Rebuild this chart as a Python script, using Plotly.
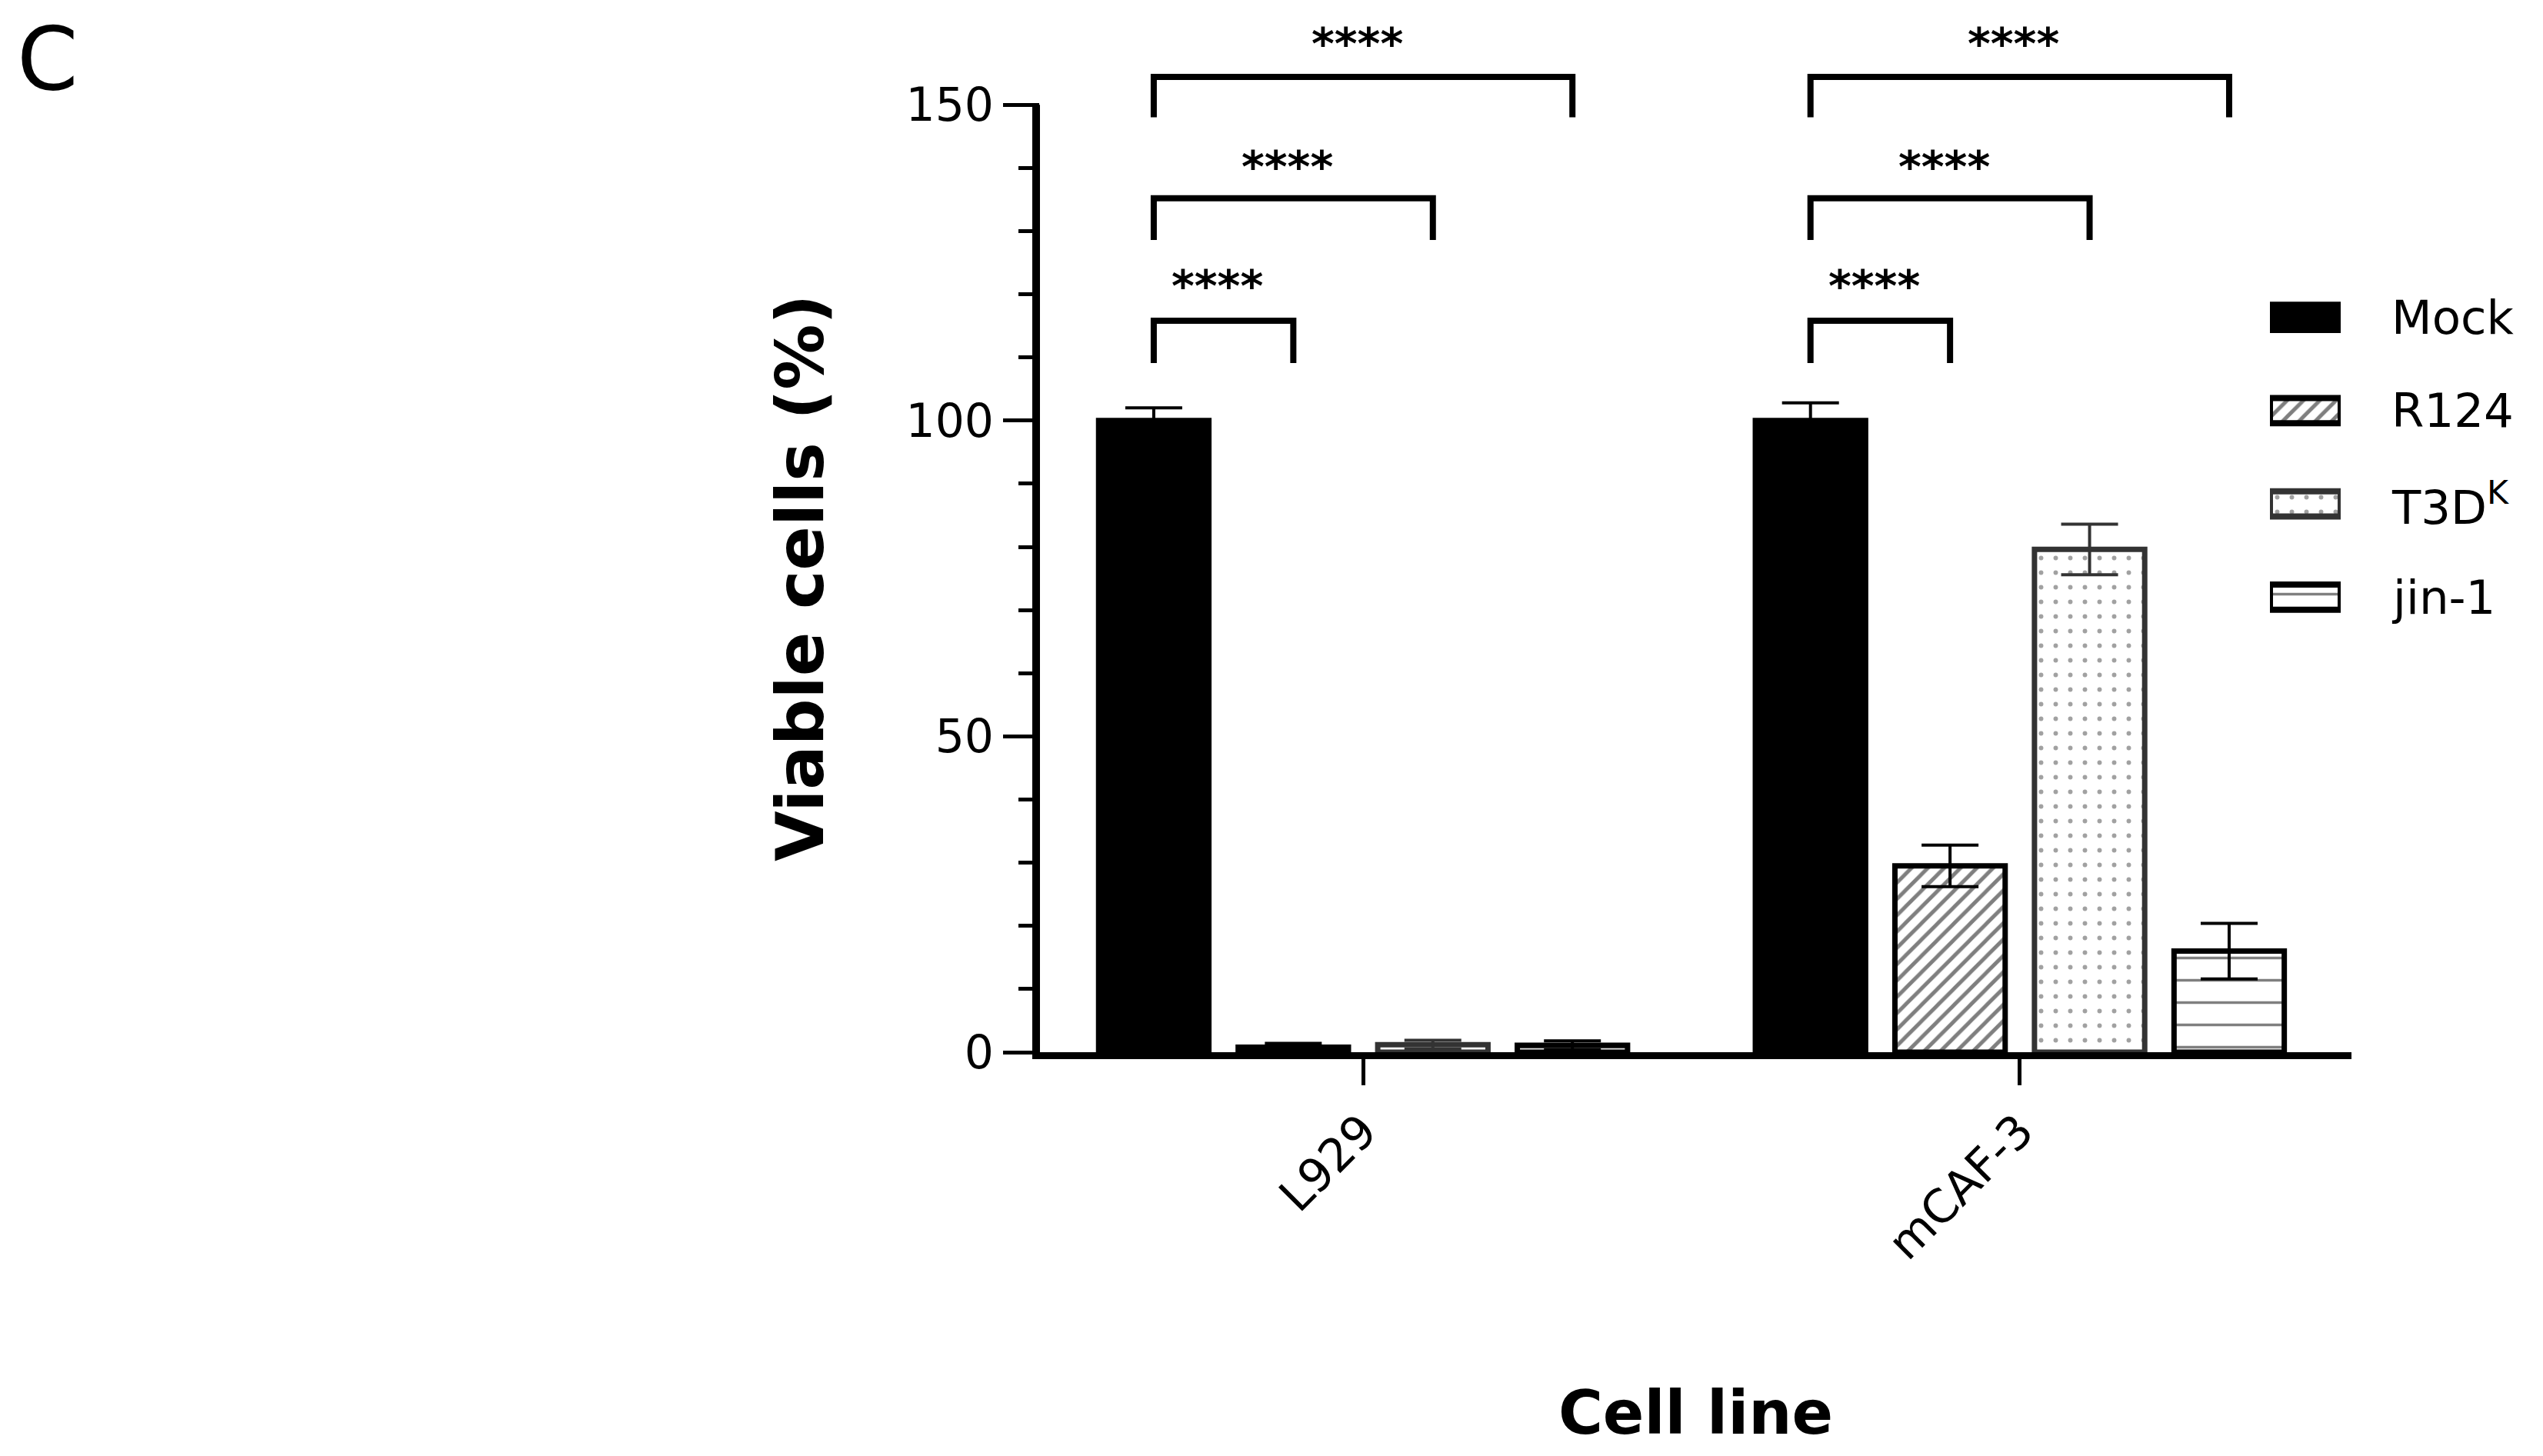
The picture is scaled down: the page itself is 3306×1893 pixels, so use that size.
import plotly.graph_objects as go

# ---------------- data ----------------
categories = ["L929", "mCAF-3"]
series_names = ["Mock", "R124", "T3D<sup>K</sup>", "jin-1"]
mock_values = [100.0, 100.0]
mock_errors = [2.0, 2.8]
r124_values = [0.8, 29.5]
r124_errors = [0.6, 3.3]
t3d_values = [1.2, 79.6]
t3d_errors = [0.7, 4.0]
jin1_values = [1.1, 16.0]
jin1_errors = [0.7, 4.4]

y_tick_values = [0, 50, 100, 150]
y_minor_tick_values = [10, 20, 30, 40, 60, 70, 80, 90, 110, 120, 130, 140]
significance_label = "****"
# each comparison: reference series index vs compared series index
comparisons = [(0, 1), (0, 2), (0, 3)]

# ---------------- layout constants (page pixels) ----------------
OFF = 8                      # default body margin of the html page
PAGE_W, PAGE_H = 3306, 1893
PLOT_LEFT, PLOT_RIGHT, PLOT_TOP, PLOT_BOTTOM = 1352, 3057, 13, 1368
W, H = PAGE_W - OFF, PAGE_H - OFF
M_L, M_T = PLOT_LEFT - OFF, PLOT_TOP - OFF
M_R, M_B = PAGE_W - PLOT_RIGHT, PAGE_H - PLOT_BOTTOM
PLOT_W = PLOT_RIGHT - PLOT_LEFT
PLOT_H = PLOT_BOTTOM - PLOT_TOP
Y_MAX = 165
Y_AXIS_TOP = 150
X_RANGE = [-0.492, 1.505]
BARGAP = 0.15
BARGROUPGAP = 0.21
FONT = "DejaVu Sans"


def px_x(px):
    return (px - PLOT_LEFT) / PLOT_W


def px_y(py):
    return (PLOT_BOTTOM - py) / PLOT_H


# bracket levels (top of bracket, foot of legs, star label level)
bracket_tops = [115.8, 135.2, 154.4]
bracket_feet = [109.1, 128.6, 148.0]
star_levels = [121.3, 140.2, 159.6]

values = [mock_values, r124_values, t3d_values, jin1_values]
errors = [mock_errors, r124_errors, t3d_errors, jin1_errors]

styles = [
    dict(color="black", line="black", err="black", pattern=None),
    dict(color="white", line="black", err="black",
         pattern=dict(shape="/", fgcolor="black", bgcolor="white", size=15, solidity=0.33)),
    dict(color="white", line="#333333", err="#333333",
         pattern=dict(shape=".", fgcolor="#444444", bgcolor="white", size=19, solidity=0.075)),
    dict(color="white", line="black", err="black",
         pattern=dict(shape="-", fgcolor="black", bgcolor="white", size=29, solidity=0.12)),
]

x_pos = list(range(len(categories)))

fig = go.Figure()
for name, vals, errs, st in zip(series_names, values, errors, styles):
    marker = dict(color=st["color"], line=dict(color=st["line"], width=7))
    if st["pattern"]:
        marker["pattern"] = st["pattern"]
    fig.add_trace(go.Bar(
        x=x_pos, y=vals, name=name, marker=marker, showlegend=False,
        error_y=dict(type="data", array=errs, visible=True, color=st["err"],
                     thickness=4, width=37),
    ))

# legend swatches drawn as mini horizontal bars on their own axes
for i, (name, st) in enumerate(zip(series_names, styles)):
    marker = dict(color=st["color"], line=dict(color=st["line"], width=8))
    if st["pattern"]:
        marker["pattern"] = st["pattern"]
    fig.add_trace(go.Bar(
        x=[1], y=[i], orientation="h", width=0.272, marker=marker,
        xaxis="x2", yaxis="y2", showlegend=False, hoverinfo="skip",
        cliponaxis=False,
    ))

# significance brackets
slot = (1 - BARGAP) / len(series_names)
shapes = []
annotations = []
for g in x_pos:
    for (a, b), top, foot, lvl in zip(comparisons, bracket_tops, bracket_feet, star_levels):
        xa = g + (a - (len(series_names) - 1) / 2) * slot
        xb = g + (b - (len(series_names) - 1) / 2) * slot
        shapes.append(dict(
            type="path", xref="x", yref="y",
            path=f"M {xa},{foot} L {xa},{top} L {xb},{top} L {xb},{foot}",
            line=dict(color="black", width=8),
        ))
        annotations.append(dict(
            x=(xa + xb) / 2, y=lvl, xref="x", yref="y", text=f"<b>{significance_label}</b>",
            showarrow=False, xanchor="center", yanchor="middle", xshift=-8,
            font=dict(family=FONT, size=57, color="black"),
        ))

# y axis line (only from 0 to 150)
shapes.append(dict(
    type="line", xref="paper", yref="paper",
    x0=px_x(1347), x1=px_x(1347), y0=px_y(1377), y1=Y_AXIS_TOP / Y_MAX,
    line=dict(color="black", width=10),
))

# legend labels
for i, name in enumerate(series_names):
    annotations.append(dict(
        x=px_x(3107), y=i, xref="paper", yref="y2", text=name,
        showarrow=False, xanchor="left", yanchor="middle",
        font=dict(family=FONT, size=61, color="black"),
    ))

# y axis title (centred on the 0-150 axis line)
annotations.append(dict(
    x=px_x(1040), y=Y_AXIS_TOP / 2, xref="paper", yref="y", text="<b>Viable cells (%)</b>",
    textangle=-90, showarrow=False, xanchor="center", yanchor="middle",
    font=dict(family=FONT, size=85, color="black"),
))

# panel letter
annotations.append(dict(
    x=px_x(20), y=px_y(76), xref="paper", yref="paper",
    text="C", showarrow=False, xanchor="left", yanchor="middle",
    font=dict(family=FONT, size=114, color="black"),
))

fig.update_layout(
    width=W, height=H,
    margin=dict(l=M_L, r=M_R, t=M_T, b=M_B, pad=0),
    paper_bgcolor="white", plot_bgcolor="rgba(0,0,0,0)",
    barmode="group", bargap=BARGAP, bargroupgap=BARGROUPGAP,
    font=dict(family=FONT, color="black"),
    xaxis=dict(
        range=X_RANGE, tickvals=x_pos, ticktext=categories, tickangle=-45,
        showline=True, linecolor="black", linewidth=9, ticks="outside",
        ticklen=34, tickwidth=5, tickcolor="black", showgrid=False, zeroline=False,
        tickfont=dict(family=FONT, size=60, color="black"), automargin=False,
        title=dict(text="<b>Cell line</b>", font=dict(family=FONT, size=79, color="black"),
                   standoff=162),
    ),
    yaxis=dict(
        range=[0, Y_MAX], tickvals=y_tick_values, showline=False, ticks="outside",
        ticklen=47, tickwidth=5, tickcolor="black", showgrid=False, zeroline=False,
        tickfont=dict(family=FONT, size=60, color="black"), automargin=False,
        minor=dict(tickvals=y_minor_tick_values, ticks="outside", ticklen=27,
                   tickwidth=5, tickcolor="black", showgrid=False),
    ),
    xaxis2=dict(domain=[px_x(2951), px_x(3043)], range=[0, 1],
                anchor="y2", visible=False, fixedrange=True),
    yaxis2=dict(domain=[px_y(837), px_y(352)],
                range=[3.5, -0.5], anchor="x2", visible=False, fixedrange=True),
    shapes=shapes,
    annotations=annotations,
)

fig.write_html("out.html")
